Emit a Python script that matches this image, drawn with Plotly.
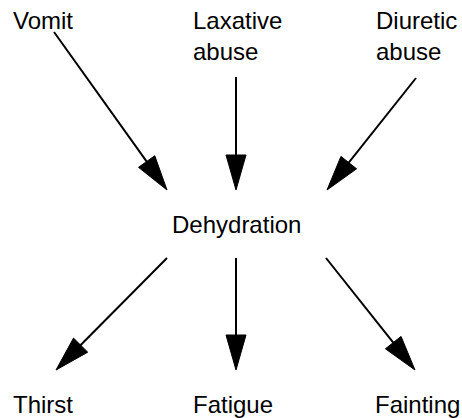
import math
import plotly.graph_objects as go

# ---- data ----
node_labels = ["Vomit", "Laxative<br>abuse", "Diuretic<br>abuse",
               "Dehydration", "Thirst", "Fatigue", "Fainting"]
edge_from = [0, 1, 2, 3, 3, 3]
edge_to = [3, 3, 3, 4, 5, 6]

# ---- layout (pixel space) ----
W, H = 462, 418
label_pos = {  # left x, vertical centre y
    0: (11, 20), 1: (191, 36), 2: (374, 36),
    3: (170, 224), 4: (11, 404), 5: (191, 404), 6: (373, 404),
}
edge_geom = [  # start (x, y), tip (x, y)
    ((54, 32), (167, 190)),
    ((236, 77), (236, 190)),
    ((416, 78), (327, 190)),
    ((167, 258), (56, 370)),
    ((236, 258), (236, 370)),
    ((326, 258), (415, 370)),
]
HEAD_LEN, HEAD_HALF = 35, 10

lx, ly, tx, ty = [], [], [], []
for (s, t) in edge_geom:
    dx, dy = t[0] - s[0], t[1] - s[1]
    L = math.hypot(dx, dy)
    ux, uy = dx / L, dy / L
    nx, ny = -uy, ux
    bx, by = t[0] - HEAD_LEN * ux, t[1] - HEAD_LEN * uy
    lx += [s[0], bx + ux * 2, None]
    ly += [s[1], by + uy * 2, None]
    tx += [t[0], bx + HEAD_HALF * nx, bx - HEAD_HALF * nx, t[0], None]
    ty += [t[1], by + HEAD_HALF * ny, by - HEAD_HALF * ny, t[1], None]

fig = go.Figure()
fig.add_trace(go.Scatter(x=lx, y=ly, mode="lines",
                         line=dict(color="black", width=2),
                         hoverinfo="skip", showlegend=False))
fig.add_trace(go.Scatter(x=tx, y=ty, mode="lines", fill="toself",
                         fillcolor="black", line=dict(color="black", width=1),
                         hoverinfo="skip", showlegend=False))

for i, lab in enumerate(node_labels):
    x, y = label_pos[i]
    fig.add_annotation(x=x, y=y, text=lab, showarrow=False,
                       xanchor="left", yanchor="middle", align="left",
                       font=dict(family="Liberation Sans, Arial, sans-serif",
                                 size=24, color="black"))

fig.update_layout(
    width=W, height=H, margin=dict(l=0, r=0, t=0, b=0),
    paper_bgcolor="white", plot_bgcolor="white",
    xaxis=dict(range=[0, W], visible=False, fixedrange=True),
    yaxis=dict(range=[H, 0], visible=False, fixedrange=True),
)
fig.write_html("out.html", config={"displayModeBar": False},
               post_script="document.body.style.margin='0';"
                           "document.body.style.overflow='hidden';")
